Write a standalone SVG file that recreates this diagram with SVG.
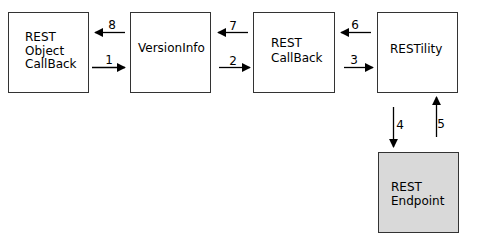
<svg xmlns="http://www.w3.org/2000/svg" width="478" height="241" viewBox="0 0 478 241">
  <style>
    .box { fill: #ffffff; stroke: #333333; stroke-width: 1; }
    .box.ext { fill: #d9d9d9; }
    text { font-family: "DejaVu Sans", Verdana, sans-serif; font-size: 12px; fill: #000000; }
    .lbl { text-anchor: middle; }
    .wire { stroke: #000000; stroke-width: 1.3; fill: none; marker-end: url(#head); }
  </style>
  <defs>
    <marker id="head" viewBox="0 0 10 10" refX="9" refY="5" markerWidth="9" markerHeight="9" markerUnits="userSpaceOnUse" orient="auto">
      <path d="M0,0 L10,5 L0,10 Z" fill="#000000"/>
    </marker>
  </defs>
  <rect width="478" height="241" fill="#ffffff"/>

  <g id="rest-object-callback">
    <rect class="box" x="8.5" y="12.5" width="80" height="80"/>
    <text x="25" y="41">REST</text>
    <text x="25" y="55">Object</text>
    <text x="25" y="68">CallBack</text>
  </g>
  <g id="version-info">
    <rect class="box" x="130.5" y="12.5" width="80" height="80"/>
    <text x="138" y="52">VersionInfo</text>
  </g>
  <g id="rest-callback">
    <rect class="box" x="253.5" y="12.5" width="81" height="80"/>
    <text x="271" y="47">REST</text>
    <text x="271" y="62">CallBack</text>
  </g>
  <g id="restility">
    <rect class="box" x="377.5" y="12.5" width="80" height="80"/>
    <text x="390" y="53">RESTility</text>
  </g>
  <g id="rest-endpoint">
    <rect class="box ext" x="378.5" y="152.5" width="80" height="80"/>
    <text x="391" y="191">REST</text>
    <text x="391" y="205">Endpoint</text>
  </g>

  <g id="connectors">
    <line class="wire" x1="92" y1="67.5" x2="125" y2="67.5"/>
    <text class="lbl" x="109" y="64">1</text>
    <line class="wire" x1="219" y1="67.5" x2="250" y2="67.5"/>
    <text class="lbl" x="233" y="65">2</text>
    <line class="wire" x1="344" y1="67.5" x2="373" y2="67.5"/>
    <text class="lbl" x="354" y="64">3</text>
    <line class="wire" x1="393.5" y1="107" x2="393.5" y2="147"/>
    <text class="lbl" x="400" y="129">4</text>
    <line class="wire" x1="436.5" y1="137" x2="436.5" y2="97"/>
    <text class="lbl" x="441" y="128">5</text>
    <line class="wire" x1="371" y1="32.5" x2="341" y2="32.5"/>
    <text class="lbl" x="355" y="29">6</text>
    <line class="wire" x1="248" y1="32.5" x2="218" y2="32.5"/>
    <text class="lbl" x="233" y="30">7</text>
    <line class="wire" x1="125" y1="32.5" x2="95" y2="32.5"/>
    <text class="lbl" x="112" y="29">8</text>
  </g>
</svg>
